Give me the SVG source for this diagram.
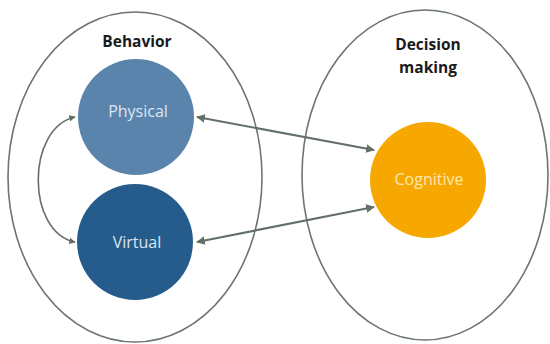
<svg xmlns="http://www.w3.org/2000/svg" width="550" height="344" viewBox="0 0 550 344">
<defs>
<style>
.outer{fill:none;stroke:#6b7670;stroke-width:1.6}
.conn{fill:none;stroke:#637068;stroke-width:2.2}
.title{font-family:"Open Sans","Liberation Sans",sans-serif;font-weight:bold;font-size:15.5px;fill:#1a1a1a;text-anchor:middle}
.lbl{font-family:"Open Sans","Liberation Sans",sans-serif;font-size:16px;text-anchor:middle}
</style>
<marker id="ah" viewBox="0 0 10 10" refX="9" refY="5" markerWidth="4" markerHeight="4" orient="auto-start-reverse" markerUnits="strokeWidth">
<path d="M0,0 L10,5 L0,10 z" fill="#637068"/>
</marker>
</defs>
<rect width="550" height="344" fill="#ffffff"/>
<g id="behavior">
<ellipse class="outer" cx="135" cy="177" rx="127" ry="165"/>
<text class="title" x="137" y="47">Behavior</text>
</g>
<g id="decision-making">
<ellipse class="outer" cx="425" cy="175" rx="123" ry="165"/>
<text class="title" x="428" y="50">Decision</text>
<text class="title" x="428" y="73">making</text>
</g>
<g id="physical">
<circle cx="136" cy="117" r="58" fill="#5b84ad"/>
<text class="lbl" x="138" y="117" fill="#dde7f1">Physical</text>
</g>
<g id="virtual">
<circle cx="135" cy="242" r="58" fill="#265c8c"/>
<text class="lbl" x="137" y="248" fill="#dbe5ef">Virtual</text>
</g>
<g id="cognitive">
<circle cx="428" cy="180" r="58" fill="#f7a800"/>
<text class="lbl" x="429" y="185" fill="#fde6b0">Cognitive</text>
</g>
<g id="connectors">
<line class="conn" x1="197" y1="117" x2="374" y2="150" marker-start="url(#ah)" marker-end="url(#ah)"/>
<line class="conn" x1="197" y1="242" x2="374" y2="207" marker-start="url(#ah)" marker-end="url(#ah)"/>
<path class="conn" style="stroke-width:1.6" d="M75,117 C26,128 26,232 75,242" marker-start="url(#ah)" marker-end="url(#ah)"/>
</g>
</svg>
